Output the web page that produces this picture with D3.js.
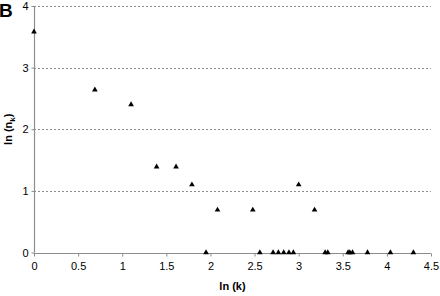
<!DOCTYPE html>
<html>
<head>
<meta charset="utf-8">
<script src="https://cdn.jsdelivr.net/npm/d3@7"></script>
<style>
  body { margin: 0; background: #fff; }
  text { font-family: Arial, "Liberation Sans", sans-serif; }
</style>
</head>
<body>
<svg id="chart" width="440" height="296"></svg>
<script>
// ln(k) and ln(n_k)
const lnK = [0, 0.69, 1.1, 1.39, 1.61, 1.79, 1.95, 2.08, 2.48, 2.56,
  2.71, 2.77, 2.83, 2.89, 2.94, 3.0, 3.18, 3.3, 3.33,
  3.56, 3.58, 3.61, 3.78, 4.04, 4.3];
const lnN = [3.58, 2.64, 2.4, 1.39, 1.39, 1.1, 0, 0.69, 0.69, 0,
  0, 0, 0, 0, 0, 1.1, 0.69, 0, 0,
  0, 0, 0, 0, 0, 0];
const xTicks = [0, 0.5, 1, 1.5, 2, 2.5, 3, 3.5, 4, 4.5];
const yTicks = [0, 1, 2, 3, 4];

const points = lnK.map((k, i) => ({ x: k, y: lnN[i] }));

const svg = d3.select("#chart");
const m = { left: 34, right: 9, top: 6, bottom: 43.5 };

const x = d3.scaleLinear().domain([0, 4.5]).range([m.left, 440 - m.right]);
const y = d3.scaleLinear().domain([0, 4]).range([296 - m.bottom, m.top]);

// dotted gridlines
svg.append("g")
  .selectAll("line")
  .data(yTicks.filter(d => d > 0))
  .enter().append("line")
  .attr("x1", x(0)).attr("x2", x(4.5))
  .attr("y1", d => Math.round(y(d)) + 0.5)
  .attr("y2", d => Math.round(y(d)) + 0.5)
  .attr("stroke", "#8c8c8c")
  .attr("stroke-dasharray", "2,2");

// y axis
const yAxis = svg.append("g")
  .attr("transform", `translate(${m.left + 0.5},0)`)
  .call(d3.axisLeft(y).tickValues(yTicks).tickSize(3).tickPadding(3).tickFormat(d3.format("d")));

// x axis
const xAxis = svg.append("g")
  .attr("transform", `translate(0,${Math.round(y(0)) + 0.5})`)
  .call(d3.axisBottom(x).tickValues(xTicks).tickSize(3).tickPadding(6).tickFormat(d => d));

for (const ax of [xAxis, yAxis]) {
  ax.select(".domain").attr("stroke", "#8c8c8c").attr("stroke-width", 1.2);
  ax.selectAll(".tick line").attr("stroke", "#8c8c8c");
  ax.selectAll("text").attr("font-size", 11).attr("fill", "#000")
    .attr("font-family", "Arial, 'Liberation Sans', sans-serif");
}
xAxis.select(".domain").attr("d", `M${x(0)},0H${x(4.5)}`);
yAxis.select(".domain").attr("d", `M0,${y(0)}V${y(4)}`);

// triangle markers
svg.append("g")
  .selectAll("path")
  .data(points)
  .enter().append("path")
  .attr("transform", d => `translate(${x(d.x)},${y(d.y)})`)
  .attr("d", d3.symbol(d3.symbolTriangle, 14))
  .attr("fill", "#000");

// panel letter
svg.append("text")
  .attr("x", -1).attr("y", 17)
  .attr("font-size", 19).attr("font-weight", "bold")
  .text("B");

// axis titles
svg.append("text")
  .attr("x", x(2.25)).attr("y", 290)
  .attr("text-anchor", "middle")
  .attr("font-size", 11).attr("font-weight", "bold")
  .text("ln (k)");

const yt = svg.append("text")
  .attr("transform", `translate(12,${y(2)}) rotate(-90)`)
  .attr("text-anchor", "middle")
  .attr("font-size", 11).attr("font-weight", "bold");
yt.append("tspan").text("ln (n");
yt.append("tspan").attr("font-size", 8).attr("dy", 3).text("k");
yt.append("tspan").attr("dy", -3).text(")");
</script>
</body>
</html>
